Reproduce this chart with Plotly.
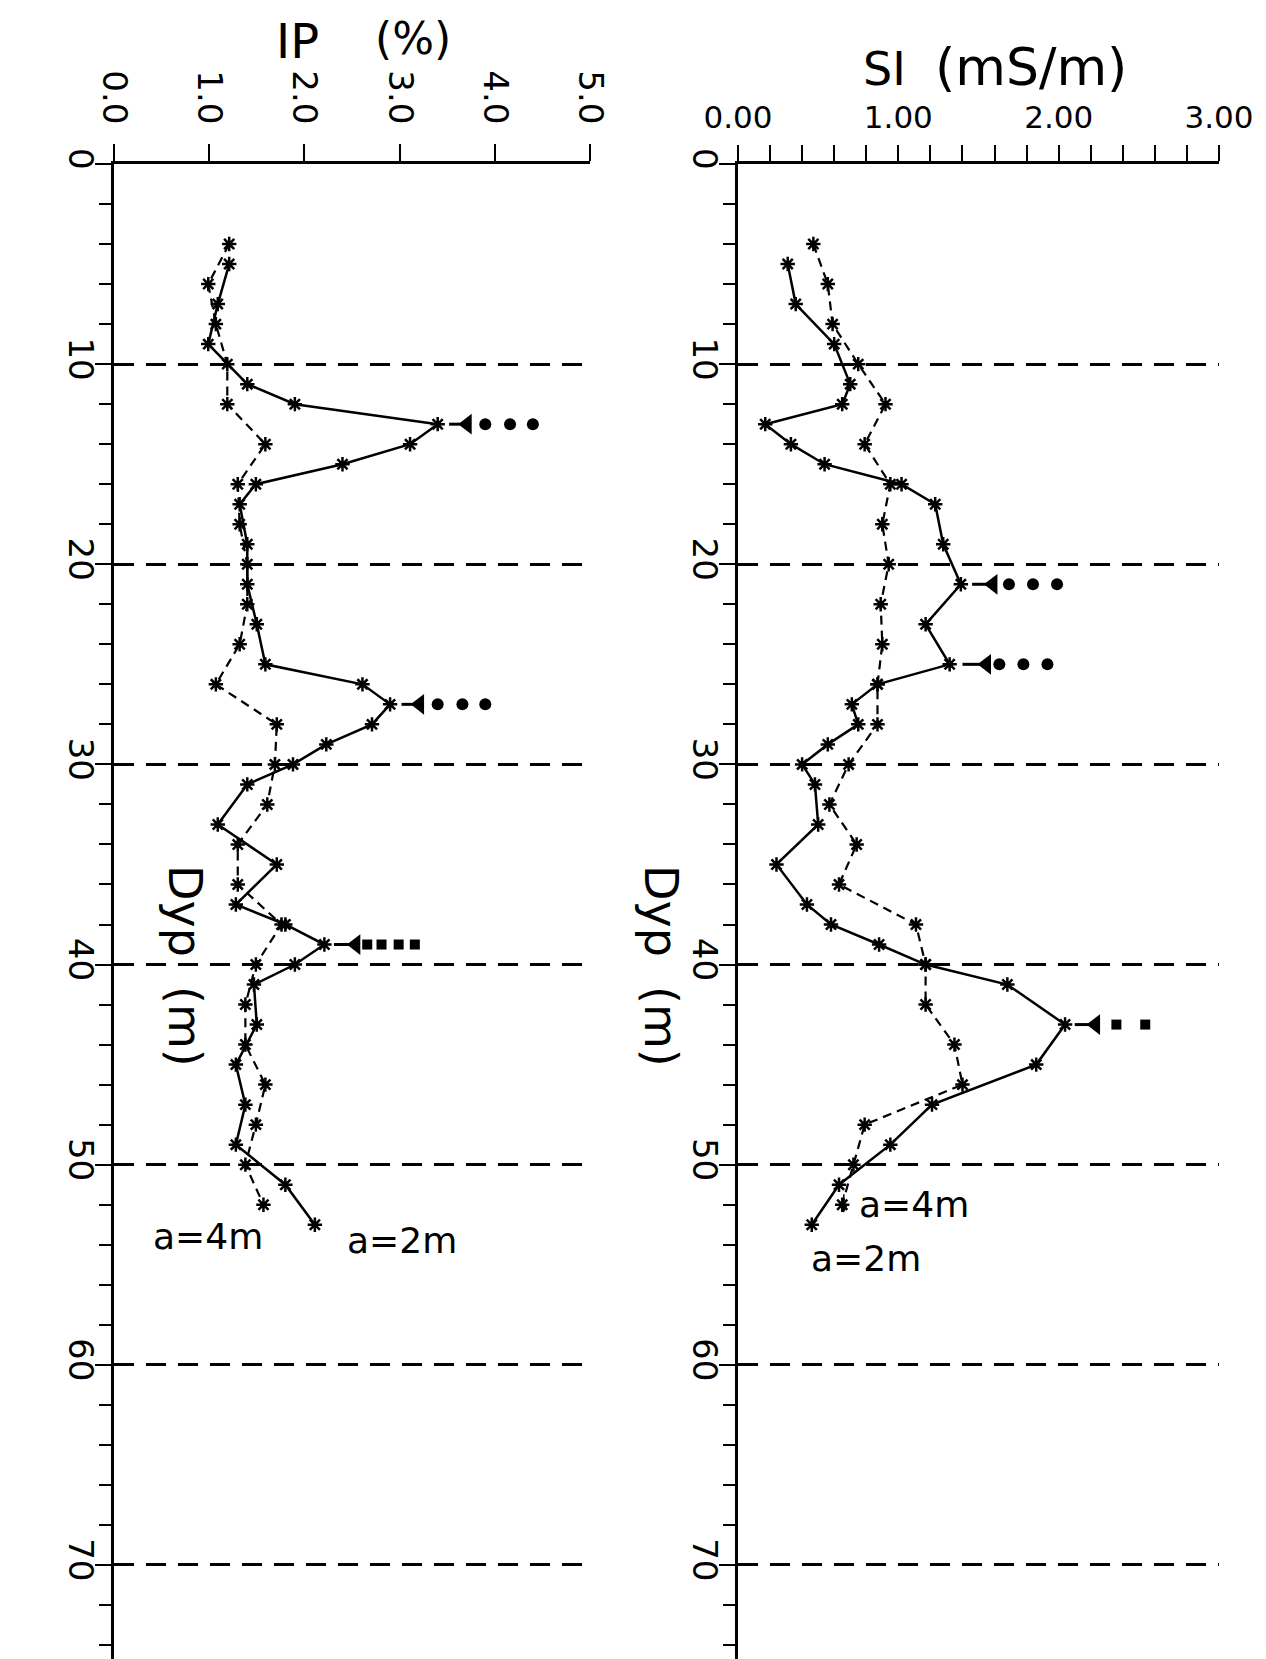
import plotly.graph_objects as go

# ---------------- data ----------------
ip_a2_depth = [5, 7, 9, 11, 12, 13, 14, 15, 16, 17, 19, 21, 23, 25, 26, 27, 28, 29, 30, 31,
               33, 35, 37, 38, 39, 40, 41, 43, 45, 47, 49, 51, 53]
ip_a2_val = [1.21, 1.09, 0.99, 1.40, 1.90, 3.40, 3.11, 2.40, 1.49, 1.32, 1.40, 1.40, 1.50, 1.59,
             2.61, 2.90, 2.71, 2.23, 1.88, 1.40, 1.09, 1.71, 1.28, 1.80, 2.21, 1.90, 1.47, 1.50,
             1.28, 1.38, 1.28, 1.80, 2.11]

ip_a4_depth = [4, 6, 8, 10, 12, 14, 16, 18, 20, 22, 24, 26, 28, 30, 32, 34, 36, 38, 40, 42,
               44, 46, 48, 50, 52]
ip_a4_val = [1.21, 0.99, 1.07, 1.19, 1.19, 1.59, 1.30, 1.32, 1.40, 1.40, 1.32, 1.07, 1.71, 1.69,
             1.61, 1.30, 1.30, 1.76, 1.49, 1.38, 1.38, 1.59, 1.49, 1.38, 1.57]

si_a2_depth = [5, 7, 9, 11, 12, 13, 14, 15, 16, 17, 19, 21, 23, 25, 26, 27, 28, 29, 30, 31,
               33, 35, 37, 38, 39, 40, 41, 43, 45, 47, 49, 51, 53]
si_a2_val = [0.31, 0.36, 0.60, 0.70, 0.65, 0.17, 0.33, 0.54, 1.02, 1.23, 1.28, 1.39, 1.17, 1.32,
             0.87, 0.71, 0.75, 0.56, 0.40, 0.48, 0.50, 0.24, 0.43, 0.58, 0.88, 1.17, 1.68, 2.04,
             1.86, 1.21, 0.95, 0.63, 0.46]

si_a4_depth = [4, 6, 8, 10, 12, 14, 16, 18, 20, 22, 24, 26, 28, 30, 32, 34, 36, 38, 40, 42,
               44, 46, 48, 50, 52]
si_a4_val = [0.47, 0.56, 0.59, 0.75, 0.92, 0.79, 0.95, 0.90, 0.94, 0.89, 0.90, 0.87, 0.87, 0.69,
             0.57, 0.74, 0.63, 1.11, 1.17, 1.17, 1.35, 1.40, 0.79, 0.72, 0.65]

# off-scale flags (depth, start of dash, arrow head, trailing dots)
ip_flag_depth = [13, 27, 39]
ip_flag_from = [3.52, 3.02, 2.31]
ip_flag_head = [3.71, 3.21, 2.54]
ip_flag_dots = [[3.90, 4.16, 4.40], [3.40, 3.66, 3.90], [2.66, 2.81, 2.99, 3.16]]
ip_flag_kind = ["circle", "circle", "square"]

si_flag_depth = [21, 25, 43]
si_flag_from = [1.46, 1.40, 2.10]
si_flag_head = [1.59, 1.55, 2.23]
si_flag_dots = [[1.69, 1.84, 1.99], [1.63, 1.78, 1.93], [2.36, 2.54]]
si_flag_kind = ["circle", "circle", "square"]

ip_ticks = [0, 1, 2, 3, 4, 5]
ip_ticklabels = ["0.0", "1.0", "2.0", "3.0", "4.0", "5.0"]
si_ticks = [0, 1, 2, 3]
si_ticklabels = ["0.00", "1.00", "2.00", "3.00"]
depth_ticks = [0, 10, 20, 30, 40, 50, 60, 70]

# ---------------- figure ----------------
W, H = 1266, 1659
FONT = "DejaVu Sans"
fig = go.Figure()


def px_x(p):
    return p / W


def px_y(p):
    return 1 - p / H


def add_panel(xa, ya, d2, v2, d4, v4, fd, ff, fh, fdots, fkind):
    fig.add_trace(go.Scatter(
        x=v2, y=d2, xaxis=xa, yaxis=ya, mode="lines+markers",
        line=dict(color="black", width=2.5),
        marker=dict(symbol="asterisk", size=12, line=dict(color="black", width=2.5)),
        showlegend=False, hoverinfo="skip"))
    fig.add_trace(go.Scatter(
        x=v4, y=d4, xaxis=xa, yaxis=ya, mode="lines+markers",
        line=dict(color="black", width=2.2, dash="9px,6px"),
        marker=dict(symbol="asterisk", size=12, line=dict(color="black", width=2.5)),
        showlegend=False, hoverinfo="skip"))
    for d, f, h, dots, kind in zip(fd, ff, fh, fdots, fkind):
        fig.add_trace(go.Scatter(
            x=[f, h], y=[d, d], xaxis=xa, yaxis=ya, mode="lines",
            line=dict(color="black", width=3), showlegend=False, hoverinfo="skip"))
        fig.add_trace(go.Scatter(
            x=[h], y=[d], xaxis=xa, yaxis=ya, mode="markers",
            marker=dict(symbol="triangle-left", size=18, color="black"),
            showlegend=False, hoverinfo="skip"))
        fig.add_trace(go.Scatter(
            x=dots, y=[d] * len(dots), xaxis=xa, yaxis=ya, mode="markers",
            marker=dict(symbol=kind, size=12 if kind == "circle" else 10, color="black"),
            showlegend=False, hoverinfo="skip"))


add_panel("x", "y", ip_a2_depth, ip_a2_val, ip_a4_depth, ip_a4_val,
          ip_flag_depth, ip_flag_from, ip_flag_head, ip_flag_dots, ip_flag_kind)
add_panel("x2", "y2", si_a2_depth, si_a2_val, si_a4_depth, si_a4_val,
          si_flag_depth, si_flag_from, si_flag_head, si_flag_dots, si_flag_kind)

TOP = 156
ydom = [0, px_y(TOP)]
yrange = [75.1, 0]

yax_common = dict(
    range=yrange, domain=ydom, showline=True, linecolor="black", linewidth=2.5,
    ticks="outside", ticklen=16, tickwidth=2, tickcolor="black",
    tickvals=depth_ticks, ticktext=[str(t) for t in depth_ticks],
    tickangle=90, tickfont=dict(family=FONT, size=34, color="black"),
    minor=dict(dtick=2, tick0=0, ticks="outside", ticklen=12, tickwidth=2,
               tickcolor="black", showgrid=False),
    showgrid=True, gridcolor="black", gridwidth=2.5, griddash="20px,12px",
    zeroline=False, ticklabelstandoff=-15, automargin=False,
)

fig.update_layout(
    width=W, height=H, margin=dict(l=0, r=0, t=0, b=0, autoexpand=False),
    paper_bgcolor="white", plot_bgcolor="white",
    xaxis=dict(
        domain=[px_x(106), px_x(582)], range=[0, 5], side="top", anchor="y",
        showline=True, linecolor="black", linewidth=2.5,
        ticks="outside", ticklen=17, tickwidth=2, tickcolor="black",
        tickvals=ip_ticks, ticktext=ip_ticklabels, tickangle=90,
        tickfont=dict(family=FONT, size=34, color="black"),
        showgrid=False, zeroline=False, ticklabelstandoff=8, automargin=False,
    ),
    yaxis=dict(anchor="x", **yax_common),
    xaxis2=dict(
        domain=[px_x(730), px_x(1211)], range=[0, 3], side="top", anchor="y2",
        showline=True, linecolor="black", linewidth=2.5,
        ticks="outside", ticklen=16, tickwidth=2, tickcolor="black",
        tickvals=si_ticks, ticktext=si_ticklabels, tickangle=0,
        tickfont=dict(family=FONT, size=31, color="black"),
        minor=dict(dtick=0.2, tick0=0, ticks="outside", ticklen=16, tickwidth=2,
                   tickcolor="black", showgrid=False),
        showgrid=False, zeroline=False, ticklabelstandoff=5, automargin=False,
    ),
    yaxis2=dict(anchor="x2", **yax_common),
)

ann = []
# axis titles
ann.append(dict(text="IP", x=px_x(289), y=px_y(33), xref="paper", yref="paper",
                showarrow=False, font=dict(family=FONT, size=48, color="black"),
                xanchor="center", yanchor="middle"))
ann.append(dict(text="(%)", x=px_x(405), y=px_y(31), xref="paper", yref="paper",
                showarrow=False, font=dict(family=FONT, size=44, color="black"),
                xanchor="center", yanchor="middle"))
ann.append(dict(text="SI", x=px_x(876), y=px_y(61), xref="paper", yref="paper",
                showarrow=False, font=dict(family=FONT, size=46, color="black"),
                xanchor="center", yanchor="middle"))
ann.append(dict(text="(mS/m)", x=px_x(1023), y=px_y(59), xref="paper", yref="paper",
                showarrow=False, font=dict(family=FONT, size=52, color="black"),
                xanchor="center", yanchor="middle"))
# depth titles
ann.append(dict(text="Dyp  (m)", x=px_x(177), y=px_y(958), xref="paper", yref="paper",
                showarrow=False, textangle=90, font=dict(family=FONT, size=46, color="black"),
                xanchor="center", yanchor="middle"))
ann.append(dict(text="Dyp  (m)", x=px_x(653), y=px_y(958), xref="paper", yref="paper",
                showarrow=False, textangle=90, font=dict(family=FONT, size=46, color="black"),
                xanchor="center", yanchor="middle"))
# series labels
lab_font = dict(family=FONT, size=36, color="black")
ann.append(dict(text="a=4m", x=0.99, y=53.6, xref="x", yref="y", showarrow=False, font=lab_font))
ann.append(dict(text="a=2m", x=3.02, y=53.8, xref="x", yref="y", showarrow=False, font=lab_font))
ann.append(dict(text="a=4m", x=1.10, y=52.0, xref="x2", yref="y2", showarrow=False, font=lab_font))
ann.append(dict(text="a=2m", x=0.80, y=54.7, xref="x2", yref="y2", showarrow=False, font=lab_font))
ann.append(dict(text="", x=0.66, y=52.4, xref="x2", yref="y2", ax=0, ay=-20,
                showarrow=True, arrowhead=2, arrowsize=1, arrowwidth=1.5, arrowcolor="black"))

fig.update_layout(annotations=ann)

fig.write_html("out.html")
